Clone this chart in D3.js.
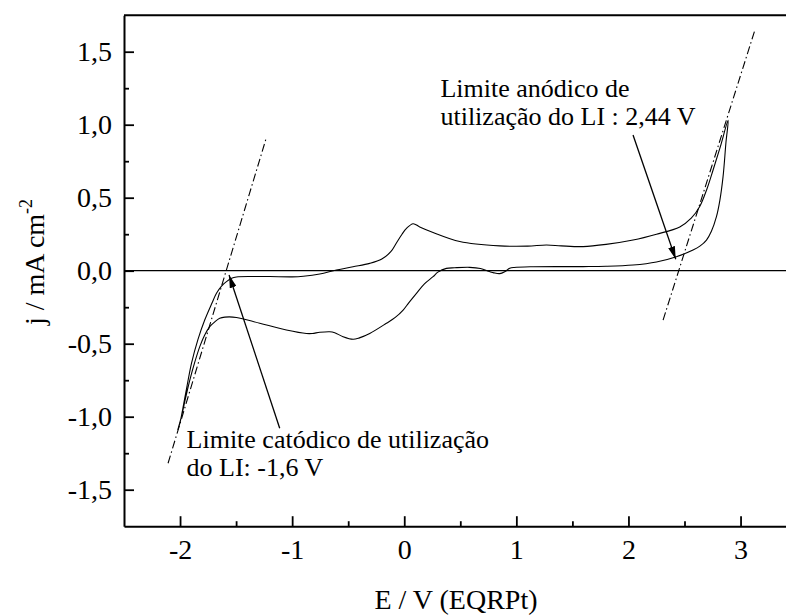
<!DOCTYPE html>
<html>
<head>
<meta charset="utf-8">
<script src="https://cdn.jsdelivr.net/npm/d3@7"></script>
<style>
  html, body { margin: 0; padding: 0; background: #fff; overflow: hidden; }
  svg { display: block; }
  svg text { font-family: "Liberation Serif", "DejaVu Serif", "Tinos", "Times New Roman", Times, serif !important; fill: #000; }
</style>
</head>
<body>
<svg id="chart" width="786" height="615"></svg>
<script>
// ---------------- data ----------------
// Forward (anodic) sweep: from cathodic vertex to anodic vertex
const fwdE = [-2.02, -2.00, -1.95, -1.898, -1.84, -1.78, -1.72, -1.675, -1.63, -1.586, -1.54, -1.497, -1.35, -1.2, -1.0, -0.9, -0.754, -0.605, -0.457, -0.308, -0.2, -0.12, -0.07, -0.02, 0.02, 0.079, 0.138, 0.257, 0.495, 0.852, 1.1, 1.268, 1.4, 1.595, 1.8, 2.041, 2.25, 2.458, 2.56, 2.636, 2.70, 2.755, 2.82, 2.889];
const fwdJ = [-1.09, -1.04, -0.84, -0.634, -0.47, -0.338, -0.23, -0.155, -0.105, -0.075, -0.052, -0.043, -0.04, -0.04, -0.042, -0.038, -0.023, 0.005, 0.027, 0.05, 0.08, 0.13, 0.19, 0.25, 0.29, 0.322, 0.30, 0.262, 0.2, 0.17, 0.168, 0.176, 0.17, 0.165, 0.18, 0.21, 0.25, 0.30, 0.36, 0.44, 0.56, 0.69, 0.85, 1.03];
// Reverse (cathodic) sweep: from anodic vertex back to cathodic vertex
const revE = [2.889, 2.87, 2.844, 2.815, 2.785, 2.74, 2.696, 2.64, 2.576, 2.428, 2.25, 2.041, 1.8, 1.595, 1.149, 0.98, 0.941, 0.90, 0.852, 0.80, 0.76, 0.68, 0.584, 0.45, 0.376, 0.30, 0.257, 0.18, 0.109, 0.04, -0.01, -0.08, -0.159, -0.308, -0.40, -0.457, -0.546, -0.62, -0.665, -0.754, -0.82, -0.873, -1.051, -1.289, -1.497, -1.6, -1.646, -1.69, -1.735, -1.78, -1.824, -1.87, -1.913, -1.95, -1.988, -2.02];
const revJ = [1.03, 0.88, 0.644, 0.48, 0.37, 0.27, 0.21, 0.17, 0.142, 0.096, 0.06, 0.039, 0.03, 0.028, 0.027, 0.022, 0.016, -0.005, -0.02, -0.015, -0.006, 0.015, 0.023, 0.02, 0.016, -0.01, -0.041, -0.09, -0.155, -0.22, -0.27, -0.32, -0.36, -0.43, -0.46, -0.47, -0.452, -0.425, -0.418, -0.422, -0.43, -0.43, -0.406, -0.36, -0.32, -0.318, -0.326, -0.35, -0.383, -0.44, -0.52, -0.63, -0.75, -0.87, -1.0, -1.09];

// zero reference line
const zeroE = [-2.5, 3.5];
const zeroJ = [0, 0];

// tangent (dash-dot) lines
const tanCathE = [-2.107, -1.229];
const tanCathJ = [-1.319, 0.914];
const tanAnodE = [2.309, 3.13];
const tanAnodJ = [-0.338, 1.653];

// annotations
const annTexts = [
  ["Limite anódico de", "utilização do LI : 2,44 V"],
  ["Limite catódico de utilização", "do LI: -1,6 V"]
];
const annE = [0.323, -1.942];
const annJ = [1.19, -1.215];
// arrows: start -> tip
const arrowStartE = [2.041, -1.111];
const arrowStartJ = [0.929, -1.079];
const arrowTipE = [2.422, -1.563];
const arrowTipJ = [0.078, -0.029];

// ticks
const xTickValues = [-2, -1, 0, 1, 2, 3];
const xTickLabels = ["-2", "-1", "0", "1", "2", "3"];
const xMinorTicks = [-1.5, -0.5, 0.5, 1.5, 2.5];
const yTickValues = [-1.5, -1.0, -0.5, 0.0, 0.5, 1.0, 1.5];
const yTickLabels = ["-1,5", "-1,0", "-0,5", "0,0", "0,5", "1,0", "1,5"];
const yMinorTicks = [-1.25, -0.75, -0.25, 0.25, 0.75, 1.25];

const xTitle = "E / V (EQRPt)";
const yTitleMain = "j / mA cm";
const yTitleSup = "-2";

// ---------------- chart ----------------
const svg = d3.select("#chart");
const mLeft = 124, mRight = 796.6, mTop = 15.2, mBottom = 526.2;
const x = d3.scaleLinear().domain([-2.5, 3.5]).range([mLeft, mRight]);
const y = d3.scaleLinear().domain([-1.75, 1.75]).range([mBottom, mTop]);

const defs = svg.append("defs");
defs.append("marker")
  .attr("id", "arrowhead")
  .attr("markerUnits", "userSpaceOnUse")
  .attr("viewBox", "0 0 13 7")
  .attr("refX", 13).attr("refY", 3.5)
  .attr("markerWidth", 13).attr("markerHeight", 7)
  .attr("orient", "auto")
  .append("path").attr("d", "M0,0 L13,3.5 L0,7 Z").attr("fill", "#000");

const straight = d3.line().x(d => x(d[0])).y(d => y(d[1]));
const smooth = d3.line().x(d => x(d[0])).y(d => y(d[1])).curve(d3.curveCatmullRom.alpha(0.5));

// zero line
svg.append("path")
  .datum(zeroE.map((e, i) => [e, zeroJ[i]]))
  .attr("d", straight)
  .attr("fill", "none").attr("stroke", "#000").attr("stroke-width", 1.3);

// CV loop
const loop = fwdE.map((e, i) => [e, fwdJ[i]]).concat(revE.slice(1).map((e, i) => [e, revJ[i + 1]]));
svg.append("path")
  .datum(loop)
  .attr("d", smooth)
  .attr("fill", "none").attr("stroke", "#000").attr("stroke-width", 1.1);

// tangents
[[tanCathE, tanCathJ], [tanAnodE, tanAnodJ]].forEach(([es, js]) => {
  svg.append("path")
    .datum(es.map((e, i) => [e, js[i]]))
    .attr("d", straight)
    .attr("fill", "none").attr("stroke", "#000").attr("stroke-width", 1.1)
    .attr("stroke-dasharray", "8,3,1.5,3");
});

// arrows
arrowStartE.forEach((e, i) => {
  svg.append("line")
    .attr("x1", x(e)).attr("y1", y(arrowStartJ[i]))
    .attr("x2", x(arrowTipE[i])).attr("y2", y(arrowTipJ[i]))
    .attr("stroke", "#000").attr("stroke-width", 1.3)
    .attr("marker-end", "url(#arrowhead)");
});

// annotation texts
annTexts.forEach((lines, i) => {
  const t = svg.append("text")
    .attr("x", x(annE[i])).attr("y", y(annJ[i]))
    .attr("font-size", 26);
  lines.forEach((s, k) => {
    t.append("tspan").attr("x", x(annE[i])).attr("dy", k === 0 ? 0 : 28).text(s);
  });
});

// axes
const xAxis = d3.axisBottom(x).tickValues(xTickValues)
  .tickFormat((d, i) => xTickLabels[i]).tickSizeInner(-10).tickSizeOuter(0).tickPadding(13);
svg.append("g").attr("transform", `translate(0,${mBottom})`).call(xAxis);
const xMinor = d3.axisBottom(x).tickValues(xMinorTicks).tickFormat("").tickSizeInner(-5).tickSizeOuter(0);
svg.append("g").attr("transform", `translate(0,${mBottom})`).call(xMinor).select(".domain").remove();

const yAxis = d3.axisLeft(y).tickValues(yTickValues)
  .tickFormat((d, i) => yTickLabels[i]).tickSizeInner(-10).tickSizeOuter(0).tickPadding(12);
svg.append("g").attr("transform", `translate(${mLeft},0)`).call(yAxis);
const yMinor = d3.axisLeft(y).tickValues(yMinorTicks).tickFormat("").tickSizeInner(-5).tickSizeOuter(0);
svg.append("g").attr("transform", `translate(${mLeft},0)`).call(yMinor).select(".domain").remove();

svg.selectAll(".tick line").attr("stroke", "#000").attr("stroke-width", 1.8);
svg.selectAll(".domain").attr("stroke", "#000").attr("stroke-width", 2);
svg.selectAll(".tick text").attr("font-size", 28).attr("fill", "#000");

// frame (top & right)
svg.append("path")
  .attr("d", `M${mLeft},${mTop} H${mRight} V${mBottom}`)
  .attr("fill", "none").attr("stroke", "#000").attr("stroke-width", 2);

// titles
svg.append("text")
  .attr("x", 456).attr("y", 609)
  .attr("text-anchor", "middle").attr("font-size", 28)
  .text(xTitle);

const yt = svg.append("text")
  .attr("transform", "translate(44,262) rotate(-90)")
  .attr("text-anchor", "middle").attr("font-size", 28);
yt.append("tspan").text(yTitleMain);
yt.append("tspan").attr("font-size", 18).attr("dy", -12).text(yTitleSup);
</script>
</body>
</html>
